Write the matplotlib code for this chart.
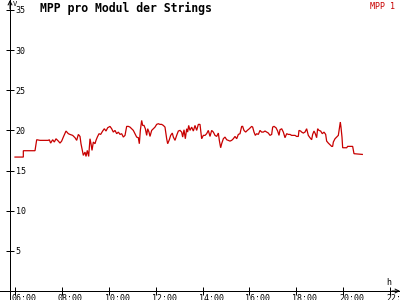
import matplotlib
matplotlib.use("Agg")
import matplotlib.pyplot as plt
from matplotlib.transforms import ScaledTranslation

# ---- data ----
hours = [6.000, 6.355, 6.355, 6.853, 6.925, 7.066, 7.279, 7.420, 7.464, 7.520,
         7.606, 7.677, 7.748, 7.848, 7.919, 7.990, 8.061, 8.175, 8.274, 8.345,
         8.459, 8.559, 8.630, 8.701, 8.772, 8.814, 8.871, 8.914, 8.985, 9.028,
         9.084, 9.141, 9.198, 9.241, 9.284, 9.340, 9.411, 9.454, 9.511, 9.582,
         9.653, 9.738, 9.810, 9.881, 9.952, 10.051, 10.122, 10.193, 10.264, 10.336,
         10.407, 10.478, 10.549, 10.620, 10.691, 10.762, 10.833, 10.904, 10.975, 11.046,
         11.117, 11.188, 11.259, 11.302, 11.345, 11.401, 11.444, 11.501, 11.558, 11.615,
         11.657, 11.714, 11.757, 11.828, 11.899, 11.970, 12.041, 12.112, 12.183, 12.254,
         12.325, 12.396, 12.468, 12.510, 12.581, 12.638, 12.709, 12.752, 12.823, 12.894,
         12.965, 13.036, 13.107, 13.150, 13.207, 13.264, 13.320, 13.363, 13.406, 13.463,
         13.534, 13.605, 13.676, 13.747, 13.818, 13.889, 13.960, 14.031, 14.102, 14.173,
         14.244, 14.316, 14.387, 14.458, 14.529, 14.600, 14.671, 14.713, 14.770, 14.813,
         14.884, 14.955, 15.026, 15.097, 15.168, 15.239, 15.310, 15.382, 15.453, 15.524,
         15.595, 15.666, 15.708, 15.765, 15.836, 15.907, 15.993, 16.092, 16.135, 16.192,
         16.249, 16.306, 16.377, 16.448, 16.519, 16.590, 16.661, 16.732, 16.803, 16.874,
         16.945, 16.988, 17.045, 17.130, 17.201, 17.258, 17.301, 17.372, 17.443, 17.514,
         17.585, 17.656, 17.727, 17.798, 17.940, 18.011, 18.082, 18.110, 18.182, 18.224,
         18.295, 18.366, 18.437, 18.508, 18.579, 18.650, 18.693, 18.750, 18.806, 18.863,
         18.906, 18.963, 19.034, 19.105, 19.177, 19.248, 19.290, 19.361, 19.432, 19.504,
         19.546, 19.575, 19.646, 19.717, 19.788, 19.830, 19.873, 19.901, 19.944, 19.973,
         20.143, 20.186, 20.399, 20.456, 20.811]
mpp = [16.68, 16.68, 17.47, 17.47, 18.84, 18.76, 18.76, 18.76, 18.84, 18.42,
       18.84, 18.55, 18.96, 18.67, 18.42, 18.67, 19.17, 19.92, 19.59, 19.50,
       19.38, 19.09, 18.76, 19.50, 19.25, 18.34, 17.51, 16.89, 17.30, 16.76,
       17.51, 16.76, 18.96, 18.34, 17.51, 18.55, 18.34, 18.76, 19.17, 19.59,
       19.50, 19.92, 20.21, 19.92, 20.33, 20.50, 20.21, 19.79, 20.00, 19.59,
       19.79, 19.50, 19.59, 19.17, 19.38, 20.50, 20.50, 20.41, 20.21, 20.00,
       19.59, 19.17, 19.09, 18.34, 20.00, 21.24, 20.62, 20.62, 20.21, 19.38,
       20.21, 19.79, 19.25, 20.00, 20.21, 20.41, 20.75, 20.83, 20.75, 20.75,
       20.62, 20.41, 18.96, 18.34, 18.84, 19.38, 19.67, 19.17, 18.76, 19.38,
       19.92, 20.00, 19.79, 19.17, 20.08, 18.96, 20.21, 19.79, 20.62, 20.00,
       20.41, 19.92, 20.62, 20.00, 20.75, 20.75, 18.96, 19.38, 19.38, 19.59,
       20.00, 19.25, 20.00, 19.79, 19.38, 19.25, 19.67, 18.76, 17.84, 18.34,
       18.96, 19.17, 18.84, 18.76, 18.67, 18.76, 18.96, 19.25, 18.96, 19.50,
       19.59, 20.50, 20.50, 20.00, 19.79, 20.00, 20.21, 20.50, 20.41, 19.79,
       19.38, 19.59, 19.50, 20.00, 19.79, 19.79, 19.92, 19.79, 19.67, 19.38,
       19.50, 20.41, 20.50, 20.33, 19.92, 19.38, 20.08, 20.21, 19.79, 19.09,
       19.59, 19.50, 19.50, 19.38, 19.38, 19.25, 19.25, 20.00, 19.92, 19.79,
       19.67, 19.79, 20.21, 19.38, 19.09, 18.84, 19.50, 19.92, 19.59, 19.09,
       20.21, 20.00, 19.92, 19.59, 19.79, 19.50, 18.67, 18.42, 18.22, 18.01,
       18.01, 18.55, 18.96, 19.17, 19.38, 20.21, 21.04, 20.41, 19.17, 17.84,
       17.84, 18.01, 18.01, 17.10, 17.01]
x_ticks = [6, 8, 10, 12, 14, 16, 18, 20, 22]
x_labels = ["06:00", "08:00", "10:00", "12:00", "14:00", "16:00", "18:00", "20:00", "22:00"]
y_ticks = [5, 10, 15, 20, 25, 30, 35]
y_labels = ["5", "10", "15", "20", "25", "30", "35"]

RED = "#c80000"
LW = 0.72  # ~1 px
plt.rcParams["font.family"] = ["DejaVu Sans Mono"]

fig = plt.figure(figsize=(4, 3), dpi=100, facecolor="white")
ax = fig.add_axes([0, 0, 1, 1])
ax.set_facecolor("white")

ax.plot(hours, mpp, color=RED, lw=0.9, solid_joinstyle="miter")

ax.set_xlim(5.3603, 22.418)
ax.set_ylim(-1.121, 36.24)

yaxis_x = 5.787
ax.spines["left"].set_position(("data", yaxis_x))
ax.spines["right"].set_position(("data", yaxis_x))
ax.spines["right"].set_visible(False)
ax.spines["top"].set_visible(False)
ax.spines["bottom"].set_position(("data", 0))
for s in ("left", "bottom"):
    ax.spines[s].set_linewidth(LW)
    ax.spines[s].set_color("black")
    ax.spines[s].set_antialiased(False)

ax.set_yticks(y_ticks)
ax.set_yticklabels(y_labels)
ax.tick_params(axis="y", direction="inout", length=6, width=LW, left=True, right=False,
               labelleft=False, labelright=True, labelsize=6, pad=1)
for lbl in ax.get_yticklabels(which="major"):
    lbl.set_ha("left")

ax.set_xticks(x_ticks)
ax.set_xticklabels(x_labels)
ax.tick_params(axis="x", direction="inout", length=6, width=LW, labelsize=6, pad=-0.5)
off = ScaledTranslation(-4 / 100, 0, fig.dpi_scale_trans)
for lbl in ax.get_xticklabels():
    lbl.set_ha("left")
    lbl.set_transform(lbl.get_transform() + off)

# axis arrows
ax.annotate("", xy=(1.0, 0), xytext=(0.98, 0), xycoords=("axes fraction", "data"),
            arrowprops=dict(arrowstyle="->", color="black", lw=LW, shrinkA=0, shrinkB=0,
                            mutation_scale=7))
ax.annotate("", xy=(yaxis_x, 1.0), xytext=(yaxis_x, 0.97), xycoords=("data", "axes fraction"),
            arrowprops=dict(arrowstyle="->", color="black", lw=LW, shrinkA=0, shrinkB=0,
                            mutation_scale=7))

fig.text(40 / 400, 1 - 2 / 300, "MPP pro Modul der Strings", fontsize=8.3,
         fontweight="bold", ha="left", va="top", color="black")
fig.text(395 / 400, 1 - 2 / 300, "MPP 1", fontsize=6, ha="right", va="top", color=RED)
fig.text(13 / 400, 1 - 0.5 / 300, "V", fontsize=5, ha="left", va="top", color="black")
fig.text(386 / 400, 1 - 287 / 300, "h", fontsize=6, ha="left", va="bottom", color="black")

fig.savefig("out.png", dpi=100, facecolor="white")
